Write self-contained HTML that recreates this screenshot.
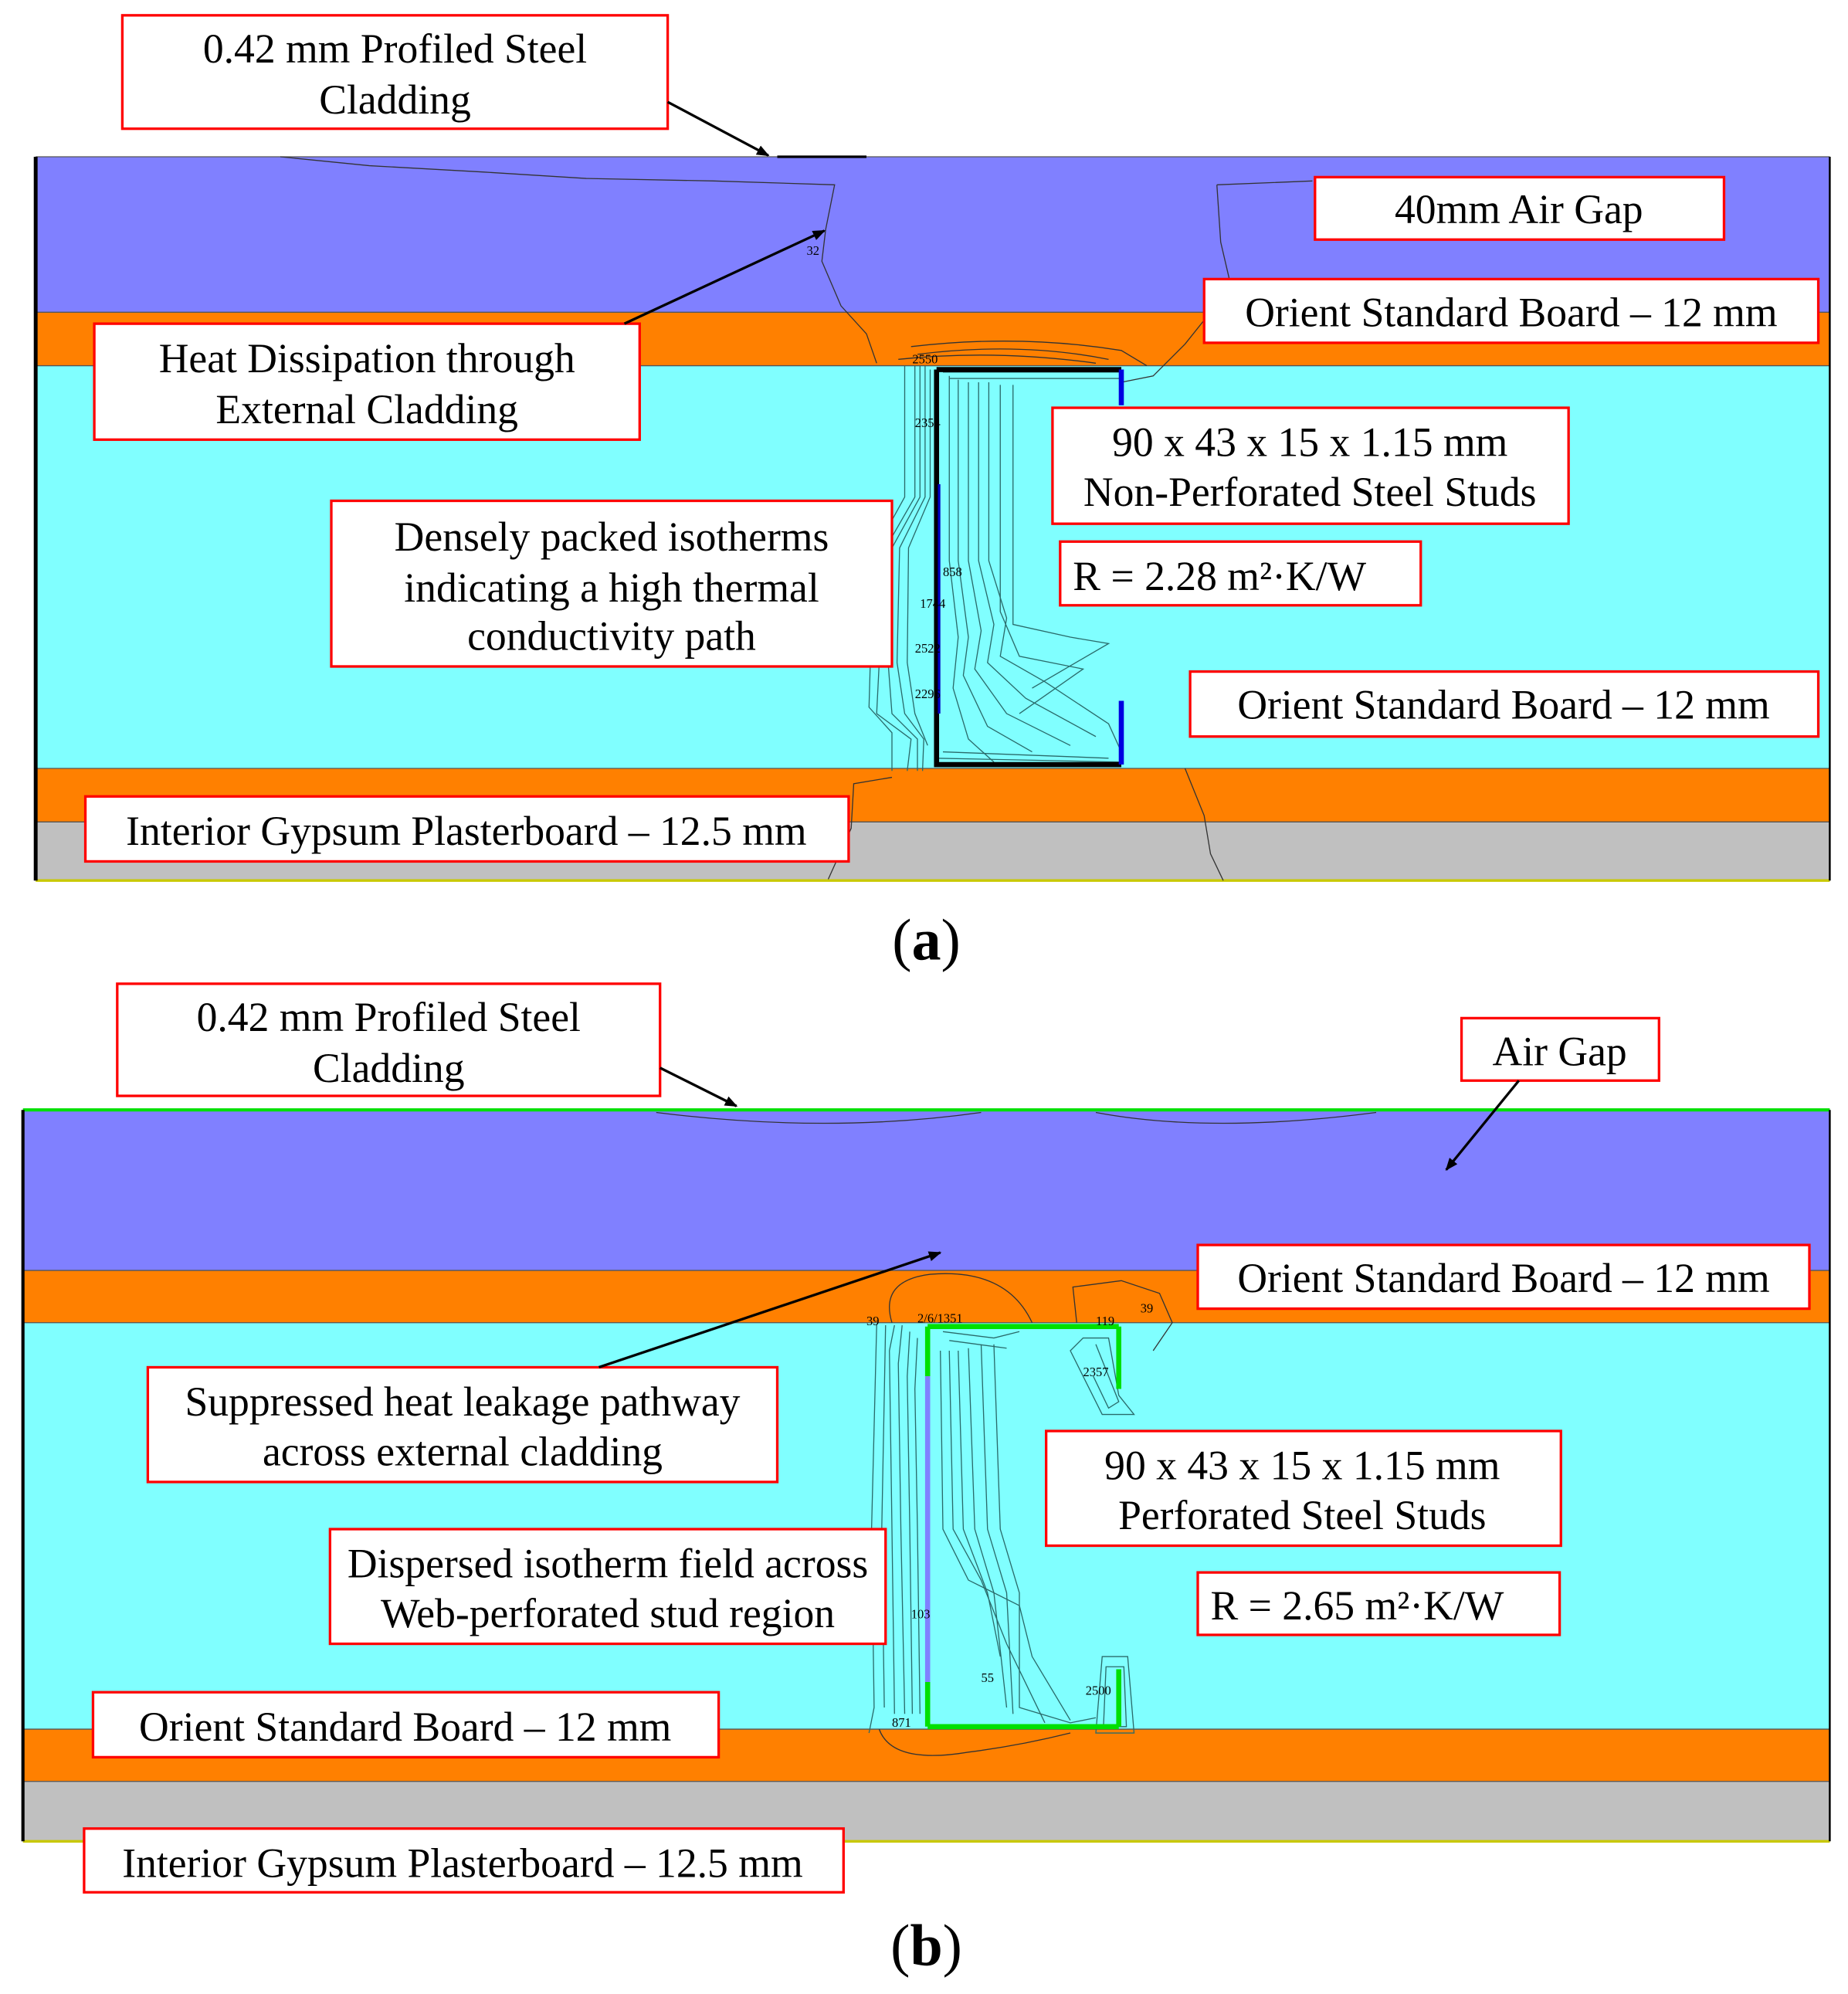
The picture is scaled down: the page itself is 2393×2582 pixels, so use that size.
<!DOCTYPE html>
<html><head><meta charset="utf-8"><style>
html,body{margin:0;padding:0;background:#fff;}
svg{display:block;}
text{font-family:"Liberation Serif",serif;fill:#000;}
</style></head><body>
<svg width="2393" height="2582" viewBox="0 0 1450.3 1564.8" xmlns="http://www.w3.org/2000/svg">
<defs><marker id="ah" markerWidth="10" markerHeight="8" refX="9" refY="4" orient="auto" markerUnits="userSpaceOnUse"><path d="M0,0 L10,4 L0,8 z" fill="#000"/></marker></defs>

<!-- ===== Panel (a) ===== -->
<rect x="28" y="123" width="1408" height="122" fill="#8080ff"/>
<rect x="28" y="245" width="1408" height="42" fill="#ff8000"/>
<rect x="28" y="287" width="1408" height="316" fill="#80ffff"/>
<rect x="28" y="603" width="1408" height="42" fill="#ff8000"/>
<rect x="28" y="645" width="1408" height="46" fill="#c0c0c0"/>
<g stroke="#555" stroke-width="0.8" fill="none">
<line x1="28" y1="123" x2="1436" y2="123"/><line x1="28" y1="245" x2="1436" y2="245"/><line x1="28" y1="287" x2="1436" y2="287"/><line x1="28" y1="603" x2="1436" y2="603"/><line x1="28" y1="645" x2="1436" y2="645"/>
</g>
<line x1="28" y1="691" x2="1436" y2="691" stroke="#c8c800" stroke-width="2"/>
<line x1="28" y1="123" x2="28" y2="691" stroke="#000" stroke-width="3"/>
<line x1="1436" y1="123" x2="1436" y2="691" stroke="#000" stroke-width="1.5"/>
<line x1="610" y1="123" x2="680" y2="123" stroke="#000" stroke-width="2"/>
<g stroke="#333" stroke-width="0.8" fill="none">
<path d="M220,123 L290,130 L380,135 L460,140 L560,142 L655,145 L648,180 L645,205 L660,240 L680,262 L688,285"/>
<path d="M955,145 L1030,142 M955,145 L958,190 L965,220 L950,245 L930,270 L905,295 L880,300"/>
<path d="M700,610 L670,615 L668,650 L650,690"/>
<path d="M930,603 L945,640 L950,670 L960,691"/>
<path d="M715,272 Q800,262 880,275 L900,287"/>
<path d="M720,278 Q800,268 870,282"/>
<path d="M705,282 Q780,274 860,285"/>
</g>
<g stroke="#2a6a6a" stroke-width="0.8" fill="none">
<path d="M718,287 L718,390 L695,430 L690,520 L688,560 L715,580 L712,605"/>
<path d="M722,287 L722,390 L700,430 L697,520 L700,560 L720,580 L720,605"/>
<path d="M726,287 L726,390 L706,430 L704,520 L710,560 L725,580 L724,605"/>
<path d="M730,290 L730,390 L713,430 L712,520 L718,560 L728,585"/>
<path d="M710,287 L710,390 L688,430 L683,520 L682,555 L700,575 L700,605"/>
<path d="M745,295 L745,440 L752,500 L748,540 L760,580 L780,598"/>
<path d="M752,298 L752,440 L760,500 L756,530 L775,570 L810,590"/>
<path d="M760,300 L760,440 L770,495 L765,525 L790,560 L840,585"/>
<path d="M768,300 L768,440 L780,490 L775,520 L805,548 L860,578"/>
<path d="M776,300 L776,440 L790,485 L785,515 L820,535 L870,568 L880,590"/>
<path d="M785,302 L785,480 L800,515 L850,525 L800,560"/>
<path d="M795,302 L795,490 L840,500 L870,505 L810,540"/>
<path d="M740,292 L880,292 M745,297 L880,297"/>
<path d="M735,595 L880,598 M740,590 L870,595"/>
</g>
<path d="M735,290 L880,290 M735,290 L735,600 L880,600" stroke="#000" stroke-width="4" fill="none"/>
<line x1="880" y1="290" x2="880" y2="318" stroke="#0000e0" stroke-width="4"/>
<line x1="880" y1="550" x2="880" y2="600" stroke="#0000e0" stroke-width="4"/>
<line x1="737" y1="380" x2="737" y2="560" stroke="#0000c0" stroke-width="2"/>
<g font-size="10" fill="#335">
<text x="716" y="285">2550</text><text x="718" y="335">2354</text><text x="740" y="452">858</text><text x="722" y="477">1744</text><text x="718" y="512">2522</text><text x="718" y="548">2296</text><text x="633" y="200">32</text>
</g>

<g fill="#fff" stroke="#f00" stroke-width="2">
<rect x="96" y="12" width="428" height="89"/>
<rect x="1032" y="139" width="321" height="49"/>
<rect x="945" y="219" width="482" height="50"/>
<rect x="74" y="254" width="428" height="91"/>
<rect x="826" y="320" width="405" height="91"/>
<rect x="832" y="425" width="283" height="50"/>
<rect x="260" y="393" width="440" height="130"/>
<rect x="934" y="527" width="493" height="51"/>
<rect x="67" y="625" width="599" height="51"/>
</g>
<line x1="524" y1="80" x2="603" y2="122" stroke="#000" stroke-width="2" marker-end="url(#ah)"/>
<line x1="490" y1="254" x2="647" y2="181" stroke="#000" stroke-width="2" marker-end="url(#ah)"/>
<g font-size="32.5" text-anchor="middle">
<text x="310" y="49">0.42 mm Profiled Steel</text><text x="310" y="89">Cladding</text>
<text x="1192" y="175">40mm Air Gap</text>
<text x="1186" y="256">Orient Standard Board – 12 mm</text>
<text x="288" y="292">Heat Dissipation through</text><text x="288" y="332">External Cladding</text>
<text x="1028" y="358">90 x 43 x 15 x 1.15 mm</text><text x="1028" y="397">Non-Perforated Steel Studs</text>
<text x="480" y="432">Densely packed isotherms</text><text x="480" y="472">indicating a high thermal</text><text x="480" y="510">conductivity path</text>
<text x="1180" y="564">Orient Standard Board – 12 mm</text>
<text x="366" y="663">Interior Gypsum Plasterboard – 12.5 mm</text>
</g>
<text x="842" y="463" font-size="32.5">R = 2.28 m²·K/W</text>
<text x="727" y="753" font-size="46" text-anchor="middle">(<tspan font-weight="bold">a</tspan>)</text>

<!-- ===== Panel (b) ===== -->
<rect x="18" y="872" width="1418" height="125" fill="#8080ff"/>
<rect x="18" y="997" width="1418" height="41" fill="#ff8000"/>
<rect x="18" y="1038" width="1418" height="319" fill="#80ffff"/>
<rect x="18" y="1357" width="1418" height="41" fill="#ff8000"/>
<rect x="18" y="1398" width="1418" height="47" fill="#c0c0c0"/>
<g stroke="#555" stroke-width="0.8" fill="none">
<line x1="18" y1="997" x2="1436" y2="997"/><line x1="18" y1="1038" x2="1436" y2="1038"/><line x1="18" y1="1357" x2="1436" y2="1357"/><line x1="18" y1="1398" x2="1436" y2="1398"/>
</g>
<line x1="18" y1="871" x2="1436" y2="871" stroke="#00e000" stroke-width="2.5"/>
<line x1="18" y1="1445" x2="1436" y2="1445" stroke="#c8c800" stroke-width="2"/>
<line x1="18" y1="871" x2="18" y2="1445" stroke="#000" stroke-width="2.5"/>
<line x1="1436" y1="871" x2="1436" y2="1445" stroke="#000" stroke-width="1.5"/>
<g stroke="#333" stroke-width="0.8" fill="none">
<path d="M515,873 Q650,890 770,873"/><path d="M860,873 Q950,890 1080,873"/>
<path d="M700,1038 Q690,1005 730,1000 Q790,995 810,1038"/>
<path d="M845,1038 L842,1010 L880,1005 L910,1015 L920,1038 L905,1060"/>
<path d="M690,1357 Q700,1385 760,1375 Q800,1370 840,1360"/>
</g>
<g stroke="#2a6a6a" stroke-width="0.8" fill="none">
<path d="M688,1040 L684,1200 L686,1340 L682,1360"/>
<path d="M695,1040 L692,1200 L694,1340"/>
<path d="M702,1040 L698,1060 L700,1200 L702,1345"/>
<path d="M708,1040 L705,1070 L707,1200 L710,1345"/>
<path d="M714,1045 L712,1080 L714,1200 L716,1345"/>
<path d="M720,1050 L718,1090 L720,1200 L722,1345"/>
<path d="M738,1060 L740,1200 L760,1240 L800,1260 L810,1300 L840,1350"/>
<path d="M745,1060 L748,1200 L770,1240 L790,1290 L820,1352"/>
<path d="M752,1060 L756,1200 L775,1250 L785,1300"/>
<path d="M760,1058 L765,1200 L780,1250 L790,1340"/>
<path d="M770,1055 L775,1200 L790,1250 L795,1345"/>
<path d="M780,1055 L785,1200 L800,1250 L800,1340 L840,1352 L860,1348"/>
<path d="M740,1045 L780,1050 L800,1045 M745,1052 L790,1058"/>
<path d="M850,1050 L870,1050 L878,1095 L890,1110 L865,1110 L855,1090 L840,1060 Z"/>
<path d="M860,1055 L878,1100 L870,1105 L858,1080"/>
<path d="M865,1300 L885,1300 L890,1360 L860,1360 Z"/>
<path d="M868,1308 L882,1308 L884,1355 L866,1355 Z"/>
</g>
<path d="M728,1041 L878,1041 M728,1355 L878,1355 M878,1041 L878,1090 M878,1310 L878,1355" stroke="#00e000" stroke-width="4" fill="none"/>
<path d="M728,1041 L728,1080 M728,1320 L728,1355" stroke="#00e000" stroke-width="4"/>
<line x1="728" y1="1080" x2="728" y2="1320" stroke="#8080ff" stroke-width="4"/>
<g font-size="10" fill="#335">
<text x="680" y="1040">39</text><text x="720" y="1038">2/6/1351</text><text x="895" y="1030">39</text><text x="860" y="1040">119</text><text x="715" y="1270">103</text><text x="770" y="1320">55</text><text x="852" y="1330">2500</text><text x="700" y="1355">871</text><text x="850" y="1080">2357</text>
</g>

<g fill="#fff" stroke="#f00" stroke-width="2">
<rect x="92" y="772" width="426" height="88"/>
<rect x="1147" y="799" width="155" height="49"/>
<rect x="940" y="977" width="480" height="50"/>
<rect x="116" y="1073" width="494" height="90"/>
<rect x="821" y="1123" width="404" height="90"/>
<rect x="940" y="1234" width="284" height="49"/>
<rect x="259" y="1200" width="436" height="90"/>
<rect x="73" y="1328" width="491" height="51"/>
<rect x="66" y="1435" width="596" height="50"/>
</g>
<line x1="518" y1="838" x2="578" y2="868" stroke="#000" stroke-width="2" marker-end="url(#ah)"/>
<line x1="1192" y1="848" x2="1135" y2="918" stroke="#000" stroke-width="2" marker-end="url(#ah)"/>
<line x1="470" y1="1073" x2="738" y2="983" stroke="#000" stroke-width="2" marker-end="url(#ah)"/>
<g font-size="32.5" text-anchor="middle">
<text x="305" y="809">0.42 mm Profiled Steel</text><text x="305" y="849">Cladding</text>
<text x="1224" y="836">Air Gap</text>
<text x="1180" y="1014">Orient Standard Board – 12 mm</text>
<text x="363" y="1111">Suppressed heat leakage pathway</text><text x="363" y="1150">across external cladding</text>
<text x="1022" y="1161">90 x 43 x 15 x 1.15 mm</text><text x="1022" y="1200">Perforated Steel Studs</text>
<text x="477" y="1238">Dispersed isotherm field across</text><text x="477" y="1277">Web-perforated stud region</text>
<text x="318" y="1366">Orient Standard Board – 12 mm</text>
<text x="363" y="1473">Interior Gypsum Plasterboard – 12.5 mm</text>
</g>
<text x="950" y="1271" font-size="32.5">R = 2.65 m²·K/W</text>
<text x="727" y="1542" font-size="46" text-anchor="middle">(<tspan font-weight="bold">b</tspan>)</text>
</svg>
</body></html>
